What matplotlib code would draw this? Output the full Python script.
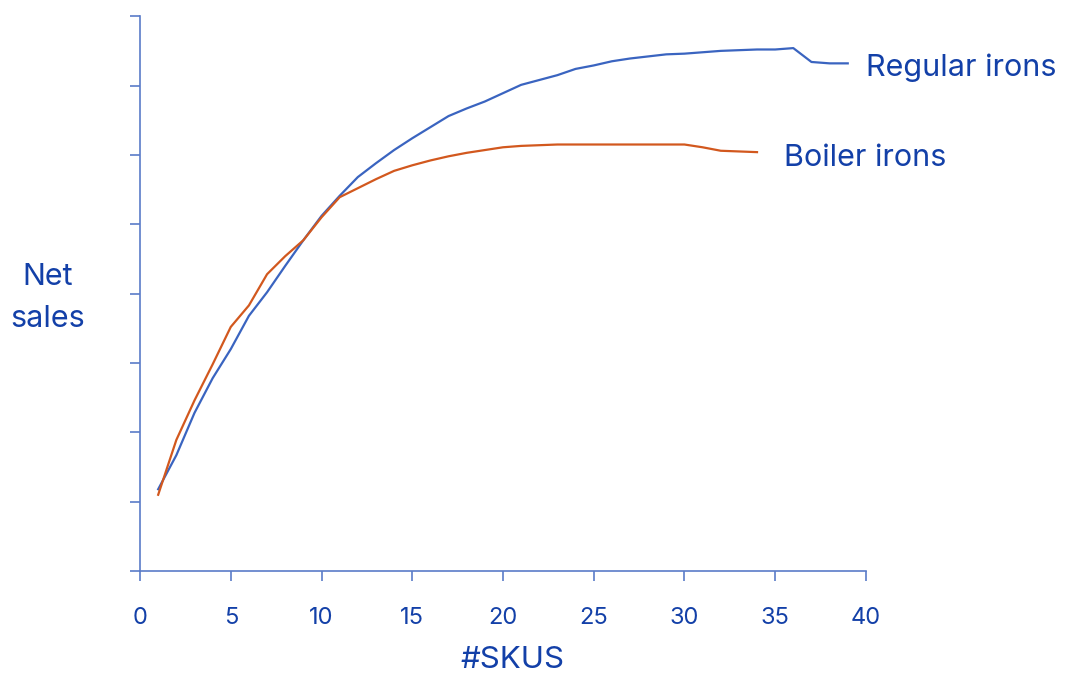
import matplotlib.pyplot as plt

# values (y axis has no labels, 0-8 grid units)
skus_regular = list(range(1, 40))
net_regular = [1.18, 1.67, 2.28, 2.78, 3.20, 3.68, 4.02, 4.40, 4.77, 5.12,
               5.41, 5.68, 5.88, 6.07, 6.24, 6.40, 6.56, 6.67, 6.77, 6.89,
               7.01, 7.08, 7.15, 7.24, 7.29, 7.35, 7.39, 7.42, 7.45, 7.46,
               7.48, 7.50, 7.51, 7.52, 7.52, 7.54, 7.34, 7.32, 7.32]

skus_boiler = list(range(1, 35))
net_boiler = [1.10, 1.89, 2.46, 2.98, 3.52, 3.83, 4.28, 4.54, 4.77, 5.10,
              5.39, 5.52, 5.65, 5.77, 5.85, 5.92, 5.98, 6.03, 6.07, 6.11,
              6.13, 6.14, 6.15, 6.15, 6.15, 6.15, 6.15, 6.15, 6.15, 6.15,
              6.11, 6.06, 6.05, 6.04]

x_ticks = [0, 5, 10, 15, 20, 25, 30, 35, 40]
y_ticks = list(range(0, 9))

text_color = '#1340a8'
axis_color = '#5a7cc8'
blue = '#3a64c0'
orange = '#d2581e'

plt.rcParams['font.family'] = ['Inter', 'DejaVu Sans']

fig = plt.figure(figsize=(10.69, 6.75), dpi=100)
ax = fig.add_axes([0.131, 0.154, 0.679, 0.822])

ax.plot(skus_regular, net_regular, color=blue, lw=1.6)
ax.plot(skus_boiler, net_boiler, color=orange, lw=1.6)

ax.set_xlim(0, 40)
ax.set_ylim(0, 8)
ax.set_xticks(x_ticks)
ax.set_yticks(y_ticks)
ax.set_yticklabels([])

for side in ['top', 'right']:
    ax.spines[side].set_visible(False)
for side in ['left', 'bottom']:
    ax.spines[side].set_color(axis_color)
    ax.spines[side].set_linewidth(1.2)

ax.tick_params(axis='both', direction='out', length=7, width=1.2, color=axis_color)
ax.tick_params(axis='x', labelsize=17, labelcolor=text_color, pad=19)

# end labels sit a little below the line ends
ax.text(40.0, net_regular[-1] - 0.06, 'Regular irons', color=text_color, fontsize=22,
        va='center', ha='left')
ax.text(35.5, net_boiler[-1] - 0.09, 'Boiler irons', color=text_color, fontsize=22,
        va='center', ha='left')

fig.text(0.045, 0.558, 'Net\nsales', color=text_color, fontsize=22,
         ha='center', va='center', linespacing=1.65)
fig.text(0.479, 0.022, '#SKUS', color=text_color, fontsize=22.5,
         ha='center', va='center')

fig.savefig('out.png', dpi=100)
